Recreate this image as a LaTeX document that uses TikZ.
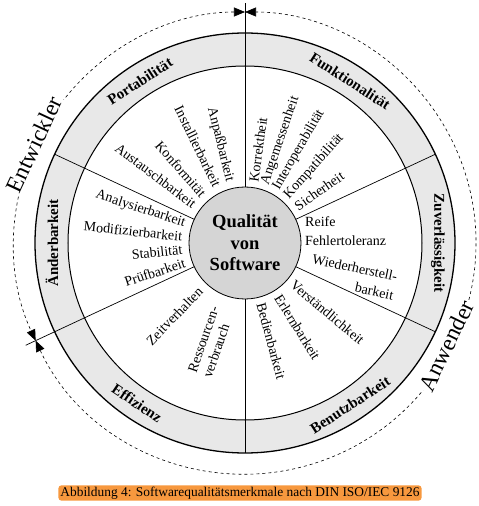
\documentclass[tikz,border=0pt]{standalone}
\usepackage{fontspec}
\setmainfont{Liberation Serif}
\usepackage{xcolor}
\usetikzlibrary{arrows.meta}

\definecolor{captionorange}{RGB}{247,152,62}

\begin{document}
\begin{tikzpicture}[
      x=1pt, y=1pt,
      ring/.style={line width=1.3pt},
      divider/.style={line width=0.7pt},
      item/.style={inner sep=0pt, font=\fontsize{14}{16}\selectfont},
      outward/.style={item, anchor=west},
      inward/.style={item, anchor=east},
      band/.style={inner sep=0pt, font=\fontsize{15}{17}\selectfont\bfseries},
      role/.style={fill=white, inner sep=1.5pt, font=\fontsize{23.5}{26}\selectfont},
      span/.style={dashed, line width=0.6pt, {Triangle[length=11pt,width=9pt]}-{Triangle[length=11pt,width=9pt]}}
    ]
    \useasboundingbox (-245,-263) rectangle (234,243);

    % ring with the six main characteristics
    \fill[gray!18, even odd rule] (0,0) circle (210) (0,0) circle (177);
    \draw[divider] (90:56) -- (90:240);
    \draw[divider] (205:56) -- (205:242);
    \draw[divider] (25:56) -- (25:210);
    \draw[divider] (155:56) -- (155:210);
    \draw[divider] (270:56) -- (270:210);
    \draw[divider] (335:56) -- (335:210);
    \draw[ring] (0,0) circle (210);
    \draw[line width=1pt] (0,0) circle (177);

    \node[circle, draw, line width=0.8pt, fill=gray!33, minimum size=112pt, inner sep=0pt, align=center,
          font=\fontsize{18.5}{21.5}\selectfont\bfseries] (core) at (0,0) {Qualität\\von\\Software};

    \node[band, rotate=33] (port) at (123:193) {Portabilität};
    \node[band, rotate=-33] (funk) at (57:193) {Funktionalität};
    \node[band, rotate=-90] (zuv) at (0:193) {Zuverlässigkeit};
    \node[band, rotate=33] (benu) at (-57:193) {Benutzbarkeit};
    \node[band, rotate=-34] (effi) at (236:193) {Effizienz};
    \node[band, rotate=90] (aend) at (180:193) {Änderbarkeit};

    % sub-characteristics
    \node[outward, rotate=82] (korr) at (82:62) {Korrektheit};
    \node[outward, rotate=71] (ange) at (71:62) {Angemessenheit};
    \node[outward, rotate=60] (inter) at (60:62) {Interoperabilität};
    \node[outward, rotate=48] (kompa) at (48:62) {Kompatibilität};
    \node[outward, rotate=35] (sich) at (35:62) {Sicherheit};

    \node[outward] (reife) at (60,21) {Reife};
    \node[outward] (fehl) at (60,2) {Fehlertoleranz};
    \node[item, align=right, rotate=-12, font=\fontsize{14}{19}\selectfont] (wied) at (108,-34) {Wiederherstell-\\barkeit};

    \node[outward, rotate=-40] (vers) at (-40:62) {Verständlichkeit};
    \node[outward, rotate=-58] (erl) at (-58:62) {Erlernbarkeit};
    \node[outward, rotate=-75] (bed) at (-75:62) {Bedienbarkeit};

    \node[inward, rotate=46] (zeit) at (226:64) {Zeitverhalten};
    \node[inward, align=left, rotate=71] (ress) at (251:70) {Ressourcen-\\verbrauch};

    \node[inward, rotate=-18] (anal) at (162:63) {Analysierbarkeit};
    \node[inward, rotate=-6] (modi) at (174:63) {Modifizierbarkeit};
    \node[inward, rotate=6] (stab) at (186:63) {Stabilität};
    \node[inward, rotate=18] (pruef) at (198:63) {Prüfbarkeit};

    \node[inward, rotate=-76] (anp) at (104:63) {Anpaßbarkeit};
    \node[inward, rotate=-64] (inst) at (116:63) {Installierbarkeit};
    \node[inward, rotate=-49] (konf) at (131:63) {Konformität};
    \node[inward, rotate=-37] (aust) at (143:63) {Austauschbarkeit};

    % who looks at which part
    \draw[span] (90:231) arc[start angle=90, end angle=205, radius=231];
    \draw[span] (205:231) arc[start angle=205, end angle=450, radius=231];
    \node[role, rotate=65] (entw) at (155:233) {Entwickler};
    \node[role, rotate=64] (anw) at (-27:226) {Anwender};

    \node[fill=captionorange, rounded corners=3pt, inner xsep=2pt, inner ysep=1.5pt,
          font=\fontsize{13.4}{15}\selectfont] (cap) at (-5,-250) {Abbildung 4: Softwarequalitätsmerkmale nach DIN ISO/IEC 9126};
  \end{tikzpicture}
\end{document}
